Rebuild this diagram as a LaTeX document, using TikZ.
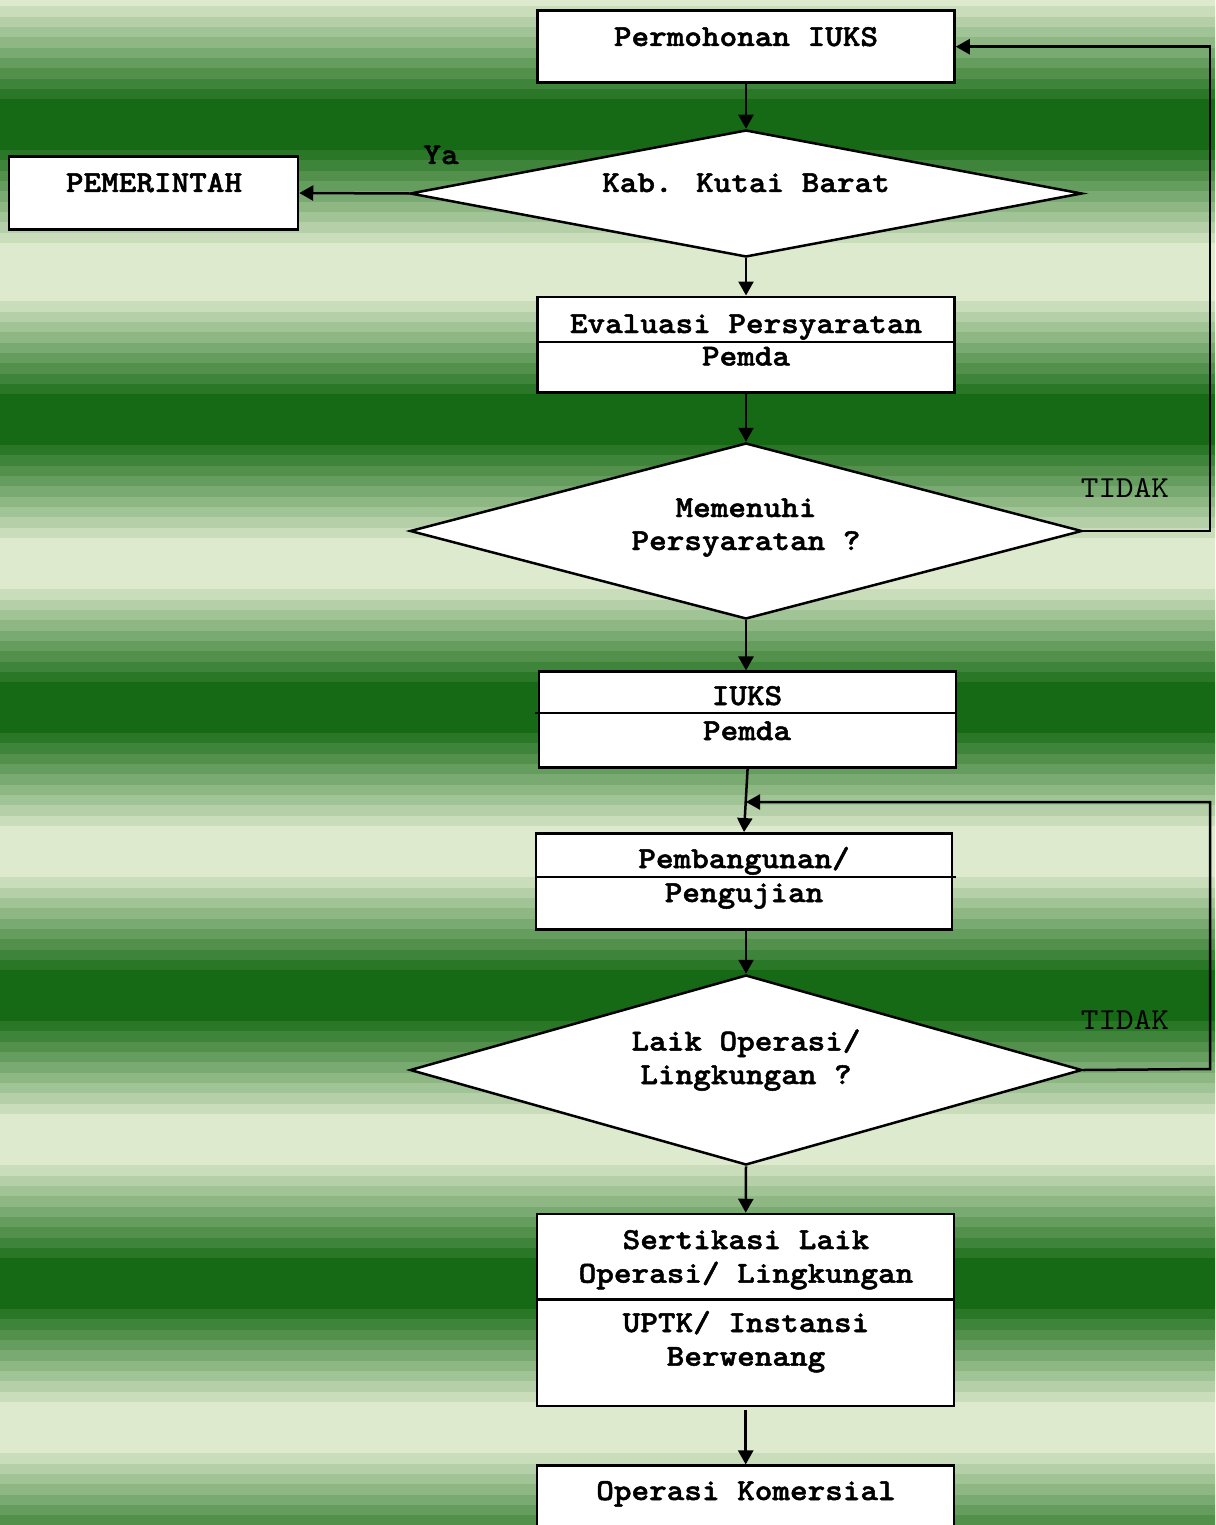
\documentclass[tikz,border=0pt]{standalone}
\usepackage{fontspec}
\newfontfamily\courb{lmmonolt10-bold.otf}[FakeStretch=1.1,FakeBold=1.6]
\newfontfamily\courr{lmmono10-regular.otf}[FakeStretch=1.1]
\usetikzlibrary{arrows.meta,shapes.geometric}
\definecolor{darkG}{HTML}{166A15}
\definecolor{lightG}{HTML}{DDEACE}
\begin{document}
\begin{tikzpicture}[x=1pt,y=-1pt,
  box/.style={draw=black,fill=white,line width=2.5pt,rectangle,inner sep=0pt,minimum width=417pt},
  dia/.style={draw=black,fill=white,line width=2.5pt,diamond,inner sep=0pt,minimum width=672pt},
  txt/.style={anchor=base,inner sep=0pt,font=\courb\fontsize{30.5}{34}\selectfont},
  lbl/.style={anchor=base,inner sep=0pt,font=\courr\fontsize{30.5}{34}\selectfont},
  arr/.style={line width=2.5pt,-{Triangle[length=14pt,width=15pt]}},
  lin/.style={line width=2.2pt}]
\useasboundingbox (0,0) rectangle (1215,1525);
% background stripes
\begin{scope}
\clip (0,0) rectangle (1215,1525);
\fill[lightG] (0,0) rectangle (1215,1525);
\foreach \d in {99,394,682,970,1258,1546} {
  \fill[darkG] (-5,\d) rectangle (1220,\d+51);
  \foreach \i in {1,...,9} {
    \pgfmathsetmacro\p{\i*10}
    \pgfmathsetmacro\ya{\d+51+(\i-1)*10.33}
    \pgfmathsetmacro\yb{\d-\i*10.33}
    \fill[lightG!\p!darkG] (-5,\ya) rectangle (1220,\ya+10.5);
    \fill[lightG!\p!darkG] (-5,\yb) rectangle (1220,\yb+10.5);
  }
}
\end{scope}
% nodes
\node[box,minimum height=72pt] (perm) at (746,46.7) {};
\node[txt] (tperm) at (746,46) {Permohonan IUKS};

\node[dia,minimum height=127pt] (kab) at (746,193.5) {};
\node[txt] (tkab) at (746,192) {Kab. Kutai Barat};

\node[box,minimum width=289pt,minimum height=72.5pt] (pem) at (153.5,193) {};
\node[txt] (tpem) at (154,192) {PEMERINTAH};
\node[txt] (ya) at (441,164) {Ya};

\node[box,minimum height=95.5pt] (eval) at (746,344.5) {};
\draw[lin] ([yshift=-46.5pt]eval.north west) -- ([yshift=-46.5pt]eval.north east);
\node[txt] (teval1) at (746,333) {Evaluasi Persyaratan};
\node[txt] (teval2) at (746,365.5) {Pemda};

\node[dia,minimum height=176pt] (mem) at (746,531) {};
\node[txt] (tmem) at (746,517) {Memenuhi};
\node[txt] (tmem2) at (746,550) {Persyaratan ?};
\node[lbl] (tidak1) at (1125,497) {TIDAK};

\node[box,minimum height=95.6pt] (iuks) at (747.6,719.5) {};
\draw[lin] ([yshift=-42.6pt,xshift=-3pt]iuks.north west) -- ([yshift=-42.6pt]iuks.north east);
\node[txt] (tiuks1) at (747,705) {IUKS};
\node[txt] (tiuks2) at (747,740) {Pemda};

\node[box,minimum width=416pt,minimum height=96pt] (pemb) at (744,881.3) {};
\draw[lin] ([yshift=-45pt]pemb.north west) -- ([yshift=-45pt,xshift=3pt]pemb.north east);
\node[txt] (tpemb1) at (744,868) {Pembangunan/};
\node[txt] (tpemb2) at (744,902) {Pengujian};

\node[dia,minimum height=190pt] (laik) at (746,1070) {};
\node[txt] (tlaik1) at (746,1050.5) {Laik Operasi/};
\node[txt] (tlaik2) at (746,1084) {Lingkungan ?};
\node[lbl] (tidak2) at (1125,1029) {TIDAK};

\node[box,minimum height=192pt] (sert) at (745.7,1310) {};
\draw[lin] ([yshift=-86.7pt]sert.north west) -- ([yshift=-86.7pt]sert.north east);
\node[txt] (tsert1) at (746,1249) {Sertikasi Laik};
\node[txt] (tsert2) at (746,1282.7) {Operasi/ Lingkungan};
\node[txt] (tsert3) at (746,1332) {UPTK/ Instansi};
\node[txt] (tsert4) at (746,1365.7) {Berwenang};

\node[box,minimum height=80pt] (okm) at (745.7,1505.7) {};
\node[txt] (tokm) at (746,1500) {Operasi Komersial};

% connectors
\coordinate (r1) at (1210,531);
\coordinate (r2) at (1210,1069);
\coordinate (j2) at (746,802);
\draw[arr] (perm.south) -- (kab.north);
\draw[arr] (kab.west) -- (pem.east);
\draw[arr] (kab.south) -- (eval.north);
\draw[arr] (eval.south) -- (mem.north);
\draw[arr] (mem.east) -- (r1) |- (perm.east);
\draw[arr] (mem.south) -- (mem.south |- iuks.north);
\draw[arr] (iuks.south) -- (pemb.north);
\draw[arr] (laik.east) -- (r2) |- (j2);
\draw[arr] (laik.north |- pemb.south) -- (laik.north);
\draw[arr] (laik.south) -- (sert.north);
\draw[arr] ([yshift=-3pt]sert.south) -- (okm.north);
\end{tikzpicture}
\end{document}
